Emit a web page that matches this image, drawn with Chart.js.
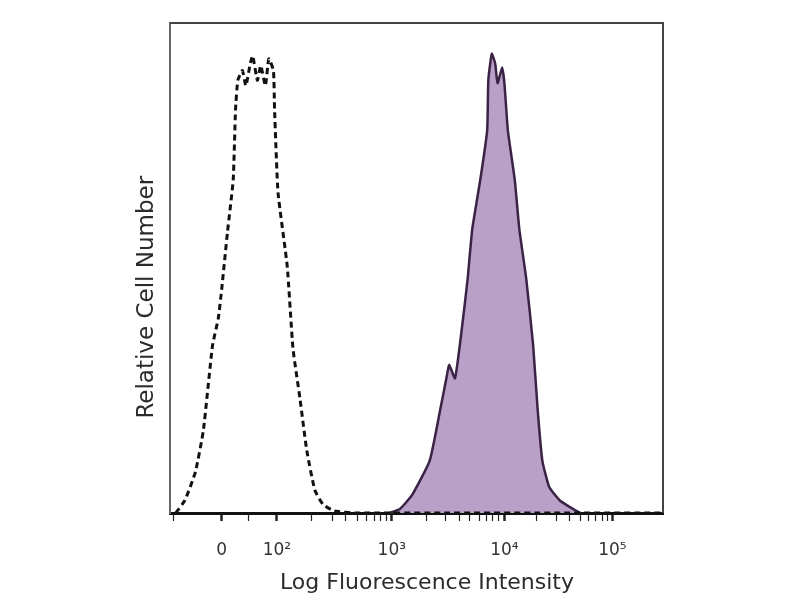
<!DOCTYPE html>
<html>
<head>
<meta charset="utf-8">
<title>Log Fluorescence Intensity</title>
<script src="https://cdn.jsdelivr.net/npm/chart.js@4.4.1/dist/chart.umd.min.js"></script>
<style>
  html, body { margin: 0; padding: 0; background: #fff; }
  .chart-box { width: 800px; height: 600px; }
</style>
</head>
<body>
<div class="chart-box"><canvas id="histChart" width="800" height="600"></canvas></div>
<script>
// x values are in display (decade) units: 3 = 10^3, ~4 = 10^4 ...
const controlX = [1.12, 1.2, 1.29, 1.36, 1.44, 1.49, 1.52, 1.57, 1.62, 1.64, 1.66, 1.7, 1.73, 1.77, 1.79, 1.83, 1.86, 1.9, 1.93, 1.97, 1.98, 2.01, 2.09, 2.14, 2.2, 2.26, 2.33, 2.4, 2.5, 2.7, 3.5, 4.5, 5.36];
const controlY = [0, 2.6, 8.3, 16.8, 34.2, 39.7, 45.7, 57.3, 68.0, 82.2, 88.3, 90.3, 87.2, 91.9, 93.3, 88.3, 91.3, 87.2, 92.7, 90.3, 82.2, 65.4, 50.4, 33.6, 23.5, 12.8, 4.7, 1.8, 0.4, 0, 0, 0, 0];

const stainedX = [2.98, 3.07, 3.18, 3.33, 3.42, 3.48, 3.5, 3.55, 3.61, 3.66, 3.7, 3.77, 3.83, 3.84, 3.87, 3.9, 3.92, 3.96, 3.98, 4.01, 4.07, 4.11, 4.17, 4.23, 4.27, 4.31, 4.37, 4.46, 4.55, 4.64];
const stainedY = [0, 0.8, 3.8, 10.7, 20.9, 28.1, 30.2, 27.5, 37.7, 47.8, 57.9, 68.0, 78.1, 88.3, 93.7, 91.7, 87.7, 90.9, 87.7, 78.1, 68.0, 57.9, 47.8, 34.2, 20.9, 10.7, 5.3, 2.6, 1.2, 0];

const majorTicks = [1.52, 2.0, 3, 3.98, 4.92];
const majorLabels = ['0', '10²', '10³', '10⁴', '10⁵'];
const minorTicks = [1.1, 1.75, 2.3, 2.48, 2.6, 2.7, 2.78, 2.85, 2.9, 2.95,
  3.3, 3.47, 3.59, 3.68, 3.76, 3.82, 3.88, 3.93,
  4.26, 4.43, 4.55, 4.64, 4.71, 4.77, 4.83, 4.88];

const toPoints = (xs, ys) => xs.map((x, i) => ({ x: x, y: ys[i] }));

// frame around the plot (top and right sides)
const frame = {
  id: 'frame',
  afterDraw(chart) {
    const { ctx, chartArea: a } = chart;
    ctx.save();
    ctx.strokeStyle = '#444';
    ctx.lineWidth = 2;
    ctx.beginPath();
    ctx.moveTo(a.left, a.top);
    ctx.lineTo(a.right, a.top);
    ctx.lineTo(a.right, a.bottom);
    ctx.stroke();
    ctx.restore();
  }
};

const ctx = document.getElementById('histChart').getContext('2d');
new Chart(ctx, {
  type: 'line',
  data: {
    datasets: [
      {
        label: 'Control',
        data: toPoints(controlX, controlY),
        borderColor: '#111',
        borderWidth: 3,
        borderDash: [6, 4],
        pointRadius: 0,
        fill: false,
        tension: 0.15,
        order: 0,
        clip: 4
      },
      {
        label: 'Stained',
        data: toPoints(stainedX, stainedY),
        borderColor: '#3b2346',
        borderWidth: 2.5,
        backgroundColor: '#b9a0c6',
        pointRadius: 0,
        fill: 'origin',
        tension: 0.15,
        order: 1,
        clip: 4
      }
    ]
  },
  options: {
    responsive: false,
    animation: false,
    layout: { padding: { left: 130, right: 137, top: 23, bottom: 0 } },
    plugins: {
      legend: { display: false },
      tooltip: { enabled: false }
    },
    scales: {
      x: {
        type: 'linear',
        min: 1.07,
        max: 5.36,
        afterBuildTicks: scale => {
          scale.ticks = majorTicks.concat(minorTicks).map(v => ({ value: v }));
        },
        afterFit: scale => { scale.height = 87; },
        ticks: {
          autoSkip: false,
          maxRotation: 0,
          padding: 19,
          color: '#333',
          font: { family: 'DejaVu Sans', size: 17 },
          callback: value => {
            const i = majorTicks.indexOf(value);
            return i >= 0 ? majorLabels[i] : '';
          }
        },
        grid: {
          drawOnChartArea: false,
          drawTicks: true,
          tickLength: 8,
          tickColor: '#222',
          tickWidth: c => (c.tick && majorTicks.includes(c.tick.value) ? 2.5 : 1.2)
        },
        border: { display: true, color: '#111', width: 3 },
        title: {
          display: true,
          // leading spaces nudge the centred title right, as in the original
          text: '   Log Fluorescence Intensity',
          color: '#2b2b2b',
          font: { family: 'DejaVu Sans', size: 22 },
          padding: { top: 0, bottom: 4 }
        }
      },
      y: {
        min: 0,
        max: 100,
        afterFit: scale => { scale.width = 40; },
        ticks: { display: false },
        grid: { display: false },
        border: { display: true, color: '#666', width: 2 },
        title: {
          display: true,
          // trailing spaces move the rotated title down a little
          text: 'Relative Cell Number        ',
          color: '#2b2b2b',
          font: { family: 'DejaVu Sans', size: 23 },
          padding: { top: 3, bottom: 0 }
        }
      }
    }
  },
  plugins: [frame]
});
</script>
</body>
</html>
